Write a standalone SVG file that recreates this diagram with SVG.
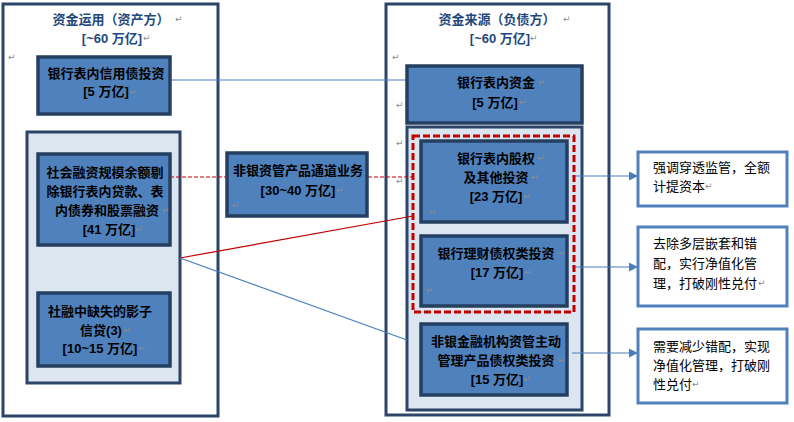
<svg xmlns="http://www.w3.org/2000/svg" width="794" height="422" viewBox="0 0 794 422">
<style>
text{font-family:"Liberation Sans","Noto Sans CJK SC",sans-serif;}
.outer{fill:#fff;stroke:#2B4468;stroke-width:3;}
.cont{fill:#DCE6F1;stroke:#2B4468;stroke-width:3;}
.blue{fill:#4F81BD;stroke:#243F60;stroke-width:3.5;}
.note{fill:#fff;stroke:#4F81BD;stroke-width:3;}
.title{font-size:13px;font-weight:bold;fill:#1F497D;text-anchor:middle;}
.bt{font-size:13px;font-weight:bold;fill:#000;text-anchor:middle;}
.nt{font-size:13px;fill:#000;}
.pm{font-family:"DejaVu Sans",sans-serif;font-size:9px;fill:#8C8C8C;}
.lb{fill:none;stroke:#4A7EBB;stroke-width:1.2;}
.lr{fill:none;stroke:#C00000;stroke-width:1.2;}
</style>
<defs>
<marker id="ah" viewBox="0 0 10 10" refX="10" refY="5" markerWidth="10" markerHeight="9" markerUnits="userSpaceOnUse" orient="auto">
<path d="M0,0 L10,5 L0,10 z" fill="#4A7EBB"/>
</marker>
</defs>
<rect width="794" height="422" fill="#fff"/>

<g id="left-panel">
<rect class="outer" x="3" y="4" width="215" height="412"/>
<text class="title" x="111" y="24">资金运用（资产方）</text>
<text class="title" x="112" y="43">[~60 万亿]</text>
<text class="pm" x="175" y="22">↵</text>
<text class="pm" x="143" y="41">↵</text>
<text class="pm" x="8" y="60">↵</text>
</g>

<g id="right-panel">
<rect class="outer" x="386" y="4" width="223" height="411"/>
<text class="title" x="497" y="24">资金来源（负债方）</text>
<text class="title" x="500" y="43">[~60 万亿]</text>
<text class="pm" x="563" y="22">↵</text>
<text class="pm" x="530" y="41">↵</text>
<text class="pm" x="392" y="60">↵</text>
<text class="pm" x="396" y="108">↵</text>
<text class="pm" x="396" y="146">↵</text>
<text class="pm" x="396" y="184">↵</text>
</g>

<g id="left-container">
<rect class="cont" x="27" y="132" width="153" height="251"/>
</g>
<g id="right-container">
<rect class="cont" x="407" y="127" width="175" height="283"/>
</g>

<g id="connectors">
<line class="lb" x1="170" y1="80" x2="407" y2="80"/>
<line class="lr" x1="170" y1="177" x2="413" y2="177" stroke-dasharray="4,2"/>
<line class="lr" x1="180" y1="258" x2="413" y2="216"/>
<line class="lb" x1="180" y1="258" x2="407" y2="340"/>
<line class="lb" x1="572" y1="176" x2="638" y2="176" marker-end="url(#ah)"/>
<line class="lb" x1="572" y1="267" x2="638" y2="267" marker-end="url(#ah)"/>
<line class="lb" x1="572" y1="353" x2="638" y2="353" marker-end="url(#ah)"/>
</g>

<g id="bank-credit-bond">
<rect class="blue" x="38" y="57" width="132" height="57"/>
<text class="bt" x="106" y="78">银行表内信用债投资</text>
<text class="bt" x="106" y="96">[5 万亿]</text>
<text class="pm" x="129" y="95">↵</text>
</g>

<g id="social-financing">
<rect class="blue" x="38" y="154" width="132" height="91"/>
<text class="bt" x="105" y="177">社会融资规模余额剔</text>
<text class="bt" x="105" y="196">除银行表内贷款、表</text>
<text class="bt" x="107" y="215">内债券和股票融资</text>
<text class="bt" x="109" y="234">[41 万亿]</text>
<text class="pm" x="162" y="213">↵</text>
<text class="pm" x="135" y="232">↵</text>
</g>

<g id="shadow-credit">
<rect class="blue" x="38" y="293" width="132" height="73"/>
<text class="bt" x="100" y="316">社融中缺失的影子</text>
<text class="bt" x="101" y="335">信贷(3)</text>
<text class="bt" x="100" y="353">[10~15 万亿]</text>
<text class="pm" x="123" y="333">↵</text>
<text class="pm" x="138" y="351">↵</text>
</g>

<g id="channel-business">
<rect class="blue" x="227" y="153" width="140" height="63"/>
<text class="bt" x="298" y="175">非银资管产品通道业务</text>
<text class="bt" x="298" y="195">[30~40 万亿]</text>
<text class="pm" x="336" y="193">↵</text>
<text class="pm" x="232" y="208" font-size="6">↵</text>
</g>

<g id="bank-funds">
<rect class="blue" x="407" y="66" width="175" height="57"/>
<text class="bt" x="496" y="87">银行表内资金</text>
<text class="bt" x="495" y="107">[5 万亿]</text>
<text class="pm" x="538" y="85">↵</text>
<text class="pm" x="519" y="105">↵</text>
</g>

<g id="red-group">
<rect x="413" y="136" width="161" height="176" fill="none" stroke="#C00000" stroke-width="3" stroke-dasharray="7,3"/>
</g>

<g id="bank-equity">
<rect class="blue" x="421" y="141" width="146" height="81"/>
<text class="bt" x="496" y="163">银行表内股权</text>
<text class="bt" x="496" y="182">及其他投资</text>
<text class="bt" x="496" y="201">[23 万亿]</text>
<text class="pm" x="537" y="161">↵</text>
<text class="pm" x="531" y="180">↵</text>
<text class="pm" x="523" y="199">↵</text>
<text class="pm" x="429" y="215" font-size="6">↵</text>
</g>

<g id="bank-wm">
<rect class="blue" x="421" y="236" width="146" height="70"/>
<text class="bt" x="496" y="258">银行理财债权类投资</text>
<text class="bt" x="497" y="277">[17 万亿]</text>
<text class="pm" x="558" y="256">↵</text>
<text class="pm" x="524" y="275">↵</text>
<text class="pm" x="426" y="293">↵</text>
</g>

<g id="nonbank-active">
<rect class="blue" x="421" y="324" width="146" height="71"/>
<text class="bt" x="496" y="346">非银金融机构资管主动</text>
<text class="bt" x="496" y="365">管理产品债权类投资</text>
<text class="bt" x="497" y="384">[15 万亿]</text>
<text class="pm" x="558" y="363">↵</text>
<text class="pm" x="523" y="382">↵</text>
</g>

<g id="note-1">
<rect class="note" x="638" y="152" width="149" height="54"/>
<text class="nt" x="653" y="172">强调穿透监管，全额</text>
<text class="nt" x="653" y="191">计提资本</text>
<text class="pm" x="705" y="189">↵</text>
</g>

<g id="note-2">
<rect class="note" x="638" y="227" width="149" height="79"/>
<text class="nt" x="653" y="248">去除多层嵌套和错</text>
<text class="nt" x="653" y="268">配，实行净值化管</text>
<text class="nt" x="653" y="288">理，打破刚性兑付</text>
<text class="pm" x="758" y="286">↵</text>
</g>

<g id="note-3">
<rect class="note" x="638" y="329" width="149" height="74"/>
<text class="nt" x="653" y="351">需要减少错配，实现</text>
<text class="nt" x="653" y="370">净值化管理，打破刚</text>
<text class="nt" x="653" y="389">性兑付</text>
<text class="pm" x="692" y="387">↵</text>
</g>
</svg>
